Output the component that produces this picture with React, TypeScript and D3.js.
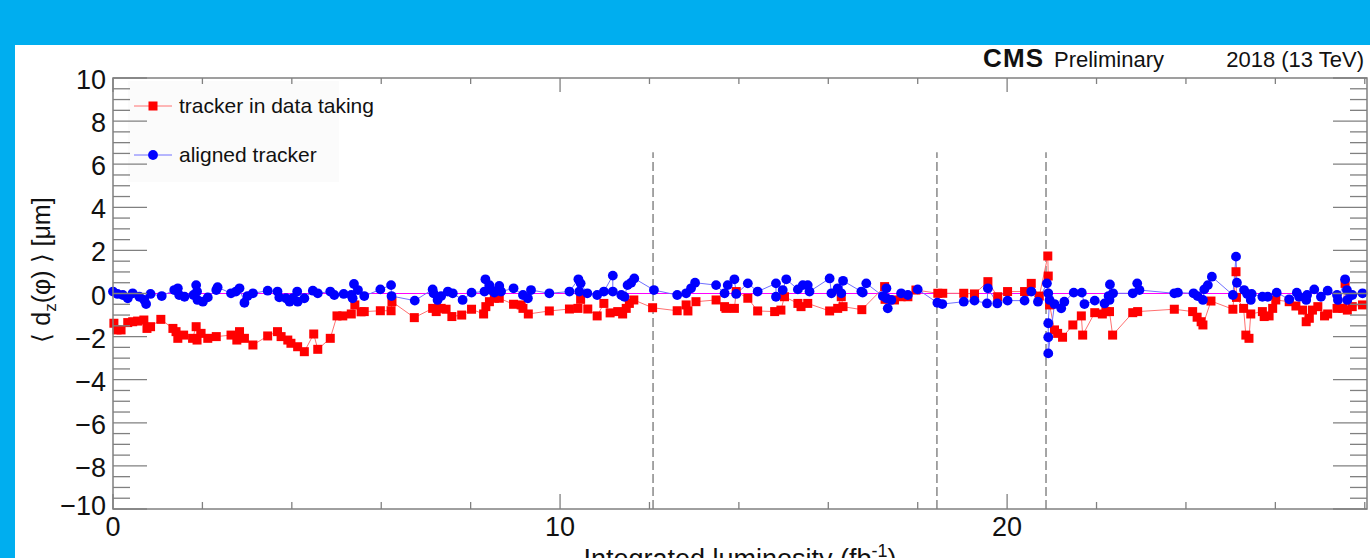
import React from 'react';
import * as d3 from 'd3';

// tracker in data taking (red squares)
const redX = [0.02, 0.09, 0.18, 0.33, 0.44, 0.55, 0.69, 0.76, 0.84, 1.07, 1.34, 1.41, 1.45, 1.58, 1.78, 1.86, 1.88, 1.97, 2.12, 2.31,
    2.64, 2.77, 2.83, 2.94, 3.13, 3.46, 3.68, 3.76, 3.91, 3.98, 4.13, 4.28, 4.49, 4.58, 4.86, 5.01, 5.14, 5.33, 5.41, 5.55,
    5.62, 5.98, 6.22, 6.24, 6.74, 7.15, 7.23, 7.34, 7.45, 7.58, 7.80, 8.02, 8.29, 8.34, 8.42, 8.53, 8.64, 8.96, 9.13, 9.17,
    9.29, 9.76, 10.21, 10.40, 10.46, 10.62, 10.83, 10.98, 11.12, 11.29, 11.40, 11.48, 11.55, 11.65, 12.07, 12.62, 12.82, 12.86, 13.04, 13.49,
    13.68, 13.71, 13.90, 13.94, 14.20, 14.42, 14.80, 14.94, 15.02, 15.32, 15.39, 15.54, 16.03, 16.21, 16.29, 16.33, 16.75, 17.26, 17.27, 17.48,
    17.63, 17.78, 17.96, 18.45, 18.56, 19.03, 19.27, 19.57, 19.79, 20.01, 20.39, 20.54, 20.72, 20.91, 20.92, 20.95, 21.06, 21.13, 21.24, 21.47,
    21.66, 21.69, 21.96, 22.13, 22.21, 22.29, 22.36, 22.81, 22.92, 23.74, 24.15, 24.25, 24.34, 24.38, 24.56, 25.05, 25.12, 25.13, 25.29, 25.34,
    25.41, 25.45, 25.71, 25.75, 25.86, 25.94, 26.01, 26.31, 26.46, 26.61, 26.69, 26.76, 26.83, 26.95, 27.10, 27.17, 27.38, 27.51, 27.56, 27.61,
    27.72, 27.95];
const redY = [-1.38, -1.69, -1.69, -1.35, -1.31, -1.28, -1.23, -1.62, -1.54, -1.20, -1.62, -1.77, -2.08, -1.93, -2.08, -1.54, -2.16, -1.85, -2.08, -2.00,
    -1.93, -2.16, -1.77, -2.08, -2.39, -1.97, -1.77, -2.00, -2.16, -2.31, -2.47, -2.70, -1.88, -2.59, -2.08, -1.04, -1.04, -0.95, -0.53, -0.85,
    -0.84, -0.80, -0.80, -0.38, -1.12, -0.69, -0.84, -0.69, -0.73, -1.07, -1.00, -0.73, -0.95, -0.61, -0.38, -0.22, -0.22, -0.50, -0.53, -0.69,
    -0.95, -0.81, -0.72, -0.69, -0.27, -0.72, -1.04, -0.46, -0.90, -0.84, -0.95, -0.69, -0.46, -0.30, -0.66, -0.80, -0.53, -0.81, -0.38, -0.30,
    -0.61, -0.69, -0.69, 0.09, -0.22, -0.81, -0.84, -0.77, -0.15, -0.46, -0.61, -0.46, -0.81, -0.69, -0.15, -0.61, -0.75, 0.32, -0.27, -0.30,
    -0.15, -0.15, 0.16, 0.01, 0.01, 0.01, -0.02, 0.55, -0.15, 0.09, 0.09, 0.47, -0.12, 1.74, 0.81, -0.53, -1.69, -1.85, -2.03, -1.46,
    -1.04, -1.93, -0.89, -0.95, -0.84, -0.84, -1.93, -0.89, -0.84, -0.73, -0.84, -1.10, -1.31, -1.46, -0.35, -0.73, 1.01, -0.18, -0.69, -1.93,
    -2.08, -0.95, -0.84, -1.07, -1.04, -0.69, -0.30, -0.38, -0.58, -0.77, -1.31, -1.15, -0.77, -0.61, -1.04, -0.95, -0.69, -0.69, 0.47, -0.77,
    -0.61, -0.53];

// aligned tracker (blue circles)
const blueX = [0.00, 0.10, 0.22, 0.33, 0.44, 0.59, 0.70, 0.74, 0.84, 1.09, 1.37, 1.45, 1.48, 1.60, 1.80, 1.86, 1.88, 1.89, 2.01, 2.12,
    2.31, 2.34, 2.64, 2.75, 2.83, 2.94, 3.01, 3.13, 3.46, 3.68, 3.72, 3.87, 3.95, 4.02, 4.12, 4.13, 4.28, 4.47, 4.58, 4.86,
    4.95, 5.16, 5.33, 5.36, 5.39, 5.48, 5.62, 5.98, 6.22, 6.23, 6.75, 7.15, 7.17, 7.26, 7.34, 7.49, 7.60, 7.82, 8.02, 8.31,
    8.33, 8.42, 8.46, 8.53, 8.64, 8.68, 8.96, 9.17, 9.28, 9.35, 9.76, 10.21, 10.41, 10.43, 10.46, 10.61, 10.83, 10.98, 11.18, 11.18,
    11.37, 11.44, 11.51, 11.59, 11.66, 12.10, 12.62, 12.82, 12.93, 13.02, 13.49, 13.68, 13.75, 13.90, 13.94, 14.20, 14.42, 14.83, 14.83, 14.98,
    15.06, 15.32, 15.43, 15.54, 15.58, 16.03, 16.07, 16.21, 16.29, 16.33, 16.74, 16.77, 16.85, 17.22, 17.30, 17.30, 17.33, 17.41, 17.63, 17.78,
    18.00, 18.44, 18.55, 19.03, 19.27, 19.55, 19.57, 19.78, 20.01, 20.39, 20.54, 20.69, 20.89, 20.92, 20.95, 20.92, 20.92, 20.92, 21.06, 21.21,
    21.28, 21.49, 21.67, 21.73, 21.96, 22.18, 22.27, 22.30, 22.29, 22.37, 22.81, 22.91, 22.96, 23.74, 23.82, 24.17, 24.26, 24.38, 24.41, 24.49,
    24.58, 25.05, 25.12, 25.14, 25.30, 25.37, 25.45, 25.47, 25.71, 25.83, 26.03, 26.31, 26.48, 26.53, 26.69, 26.71, 26.87, 27.02, 27.17, 27.38,
    27.40, 27.56, 27.60, 27.61, 27.72, 27.95];
const blueY = [0.09, -0.02, -0.07, -0.22, 0.01, -0.15, -0.30, -0.49, -0.02, -0.12, 0.16, 0.24, -0.07, -0.15, -0.07, 0.39, 0.09, -0.30, -0.38, -0.18,
    0.16, 0.29, 0.01, 0.09, 0.24, -0.43, -0.12, 0.01, 0.13, 0.09, -0.18, -0.22, -0.38, -0.22, 0.09, -0.38, -0.22, 0.13, 0.01, 0.09,
    -0.07, -0.02, -0.07, -0.22, 0.44, 0.16, -0.12, 0.19, 0.39, -0.12, -0.33, 0.19, 0.01, -0.30, -0.12, 0.09, 0.01, -0.30, 0.04, 0.09,
    0.66, 0.39, 0.16, 0.04, 0.35, 0.09, 0.24, -0.07, -0.22, 0.16, 0.01, 0.09, 0.66, 0.09, 0.47, 0.01, -0.07, 0.09, 0.83, 0.09,
    -0.07, -0.15, 0.39, 0.50, 0.70, 0.16, -0.07, 0.01, 0.24, 0.50, 0.39, 0.01, 0.39, 0.66, -0.02, 0.47, 0.09, 0.47, -0.15, 0.16,
    0.66, 0.19, 0.39, 0.39, 0.09, 0.70, 0.01, 0.24, 0.01, 0.59, 0.09, 0.04, 0.47, -0.12, 0.24, -0.22, -0.69, -0.30, 0.01, -0.07,
    0.19, -0.43, -0.49, -0.38, -0.33, -0.46, 0.24, -0.46, -0.33, -0.33, 0.09, -0.38, 0.47, 0.01, -0.30, -1.38, -2.03, -2.78, -0.49, -0.69,
    -0.38, 0.04, 0.04, -0.49, -0.33, -0.46, -0.12, 0.42, -0.30, 0.01, 0.01, 0.47, 0.16, 0.01, 0.04, 0.01, -0.12, -0.30, 0.19, 0.39,
    0.78, -0.07, 1.71, 0.50, 0.16, -0.02, -0.30, -0.02, -0.15, -0.15, 0.04, -0.27, 0.04, -0.15, -0.30, -0.07, 0.19, -0.15, 0.13, -0.07,
    -0.30, 0.66, 0.16, -0.30, -0.07, 0.01];

// alignment update boundaries (fb^-1)
const boundaries = [12.08, 18.43, 20.87];

const yMajor = [-10, -8, -6, -4, -2, 0, 2, 4, 6, 8, 10];
const xMajor = [0, 10, 20];

const W = 1370;
const H = 558;
const left = 113;
const right = 1367;
const top = 78;
const bottom = 509;
const font = '"Liberation Sans", Arial, Helvetica, sans-serif';
const axisColor = '#808080';

export default function App() {
    const x = d3.scaleLinear().domain([0, 28.05]).range([left, right]);
    const y = d3.scaleLinear().domain([-10, 10]).range([bottom, top]);

    const red = d3.zip(redX, redY);
    const blue = d3.zip(blueX, blueY);

    const line = d3.line<number[]>().x((d) => x(d[0])).y((d) => y(d[1]));

    const yMinor = d3.range(-10, 10.001, 0.5);
    const xMinor = d3.range(0, 28.06, 2);
    const fmt = d3.format('d');

    return (
        <svg width={W} height={H} style={{ position: 'absolute', left: 0, top: 0 }} fontFamily={font}>
            <rect x={0} y={0} width={W} height={H} fill="#00aeef" />
            <rect x={15} y={45} width={W - 15} height={H - 45} fill="#ffffff" />

            {/* legend box */}
            <rect x={128} y={81} width={211} height={101} fill="#fbfbfb" />

            {/* zero line */}
            <line x1={left} x2={right} y1={y(0)} y2={y(0)} stroke="#ff00ff" strokeWidth={1.2} />

            {/* boundaries */}
            {boundaries.map((b) => (
                <line key={b} x1={x(b)} x2={x(b)} y1={y(-10)} y2={y(6.55)}
                    stroke="#888" strokeWidth={1.5} strokeDasharray="9,4" />
            ))}

            {/* series */}
            <path d={line(red) || ''} fill="none" stroke="#ff7070" strokeWidth={1} />
            <path d={line(blue) || ''} fill="none" stroke="#7070ff" strokeWidth={1} />
            {red.map((d, i) => (
                <rect key={'r' + i} x={x(d[0]) - 4.5} y={y(d[1]) - 4.5} width={9} height={9} fill="#ff0000" />
            ))}
            {blue.map((d, i) => (
                <circle key={'b' + i} cx={x(d[0])} cy={y(d[1])} r={4.9} fill="#0000ff" />
            ))}

            {/* frame */}
            <rect x={left} y={top} width={right - left} height={bottom - top} fill="none" stroke={axisColor} strokeWidth={1.5} />

            {/* y ticks, both sides */}
            {yMinor.map((v) => {
                const major = Math.abs(v % 2) < 1e-6;
                const len = major ? 34 : 17;
                return (
                    <g key={'yt' + v}>
                        <line x1={left} x2={left + len} y1={y(v)} y2={y(v)} stroke={axisColor} strokeWidth={1.3} />
                        <line x1={right} x2={right - len} y1={y(v)} y2={y(v)} stroke={axisColor} strokeWidth={1.3} />
                    </g>
                );
            })}
            {/* x ticks, both sides */}
            {xMinor.map((v) => {
                const major = xMajor.includes(v);
                return (
                    <g key={'xt' + v}>
                        <line x1={x(v)} x2={x(v)} y1={bottom} y2={bottom - (major ? 15 : 7)} stroke={axisColor} strokeWidth={1.3} />
                        <line x1={x(v)} x2={x(v)} y1={top} y2={top + (major ? 14 : 6)} stroke={axisColor} strokeWidth={1.3} />
                    </g>
                );
            })}

            {/* tick labels */}
            {yMajor.map((v) => (
                <text key={'yl' + v} x={106} y={Math.min(y(v) + 11, 515)} textAnchor="end" fontSize={27} fill="#111">
                    {fmt(v)}
                </text>
            ))}
            {xMajor.map((v) => (
                <text key={'xl' + v} x={x(v)} y={536} textAnchor="middle" fontSize={27} fill="#111">
                    {fmt(v)}
                </text>
            ))}

            {/* axis titles */}
            <text transform="translate(50,270) rotate(-90)" textAnchor="middle" fontSize={25} fill="#111">
                {'\u27E8 d'}
                <tspan fontSize={17} dy={6}>z</tspan>
                <tspan dy={-6}>{'(\u03C6) \u27E9 [\u03BCm]'}</tspan>
            </text>
            <text x={(left + right) / 2} y={568} textAnchor="middle" fontSize={27} fill="#111">
                Integrated luminosity (fb
                <tspan fontSize={18} dy={-11}>-1</tspan>
                <tspan dy={11}>)</tspan>
            </text>

            {/* header */}
            <text x={983} y={67} fontSize={26} fontWeight="bold" fill="#111" textLength={60}>CMS</text>
            <text x={1054} y={67} fontSize={22} fill="#111">Preliminary</text>
            <text x={1364} y={67} textAnchor="end" fontSize={22} fill="#111">2018 (13 TeV)</text>

            {/* legend */}
            <line x1={134} x2={172} y1={106} y2={106} stroke="#ff7070" strokeWidth={1} />
            <rect x={148.5} y={101.5} width={9} height={9} fill="#ff0000" />
            <text x={179} y={113} fontSize={21} fill="#111">tracker in data taking</text>
            <line x1={134} x2={172} y1={155} y2={155} stroke="#7070ff" strokeWidth={1} />
            <circle cx={153} cy={155} r={4.9} fill="#0000ff" />
            <text x={179} y={162} fontSize={21} fill="#111">aligned tracker</text>
        </svg>
    );
}
